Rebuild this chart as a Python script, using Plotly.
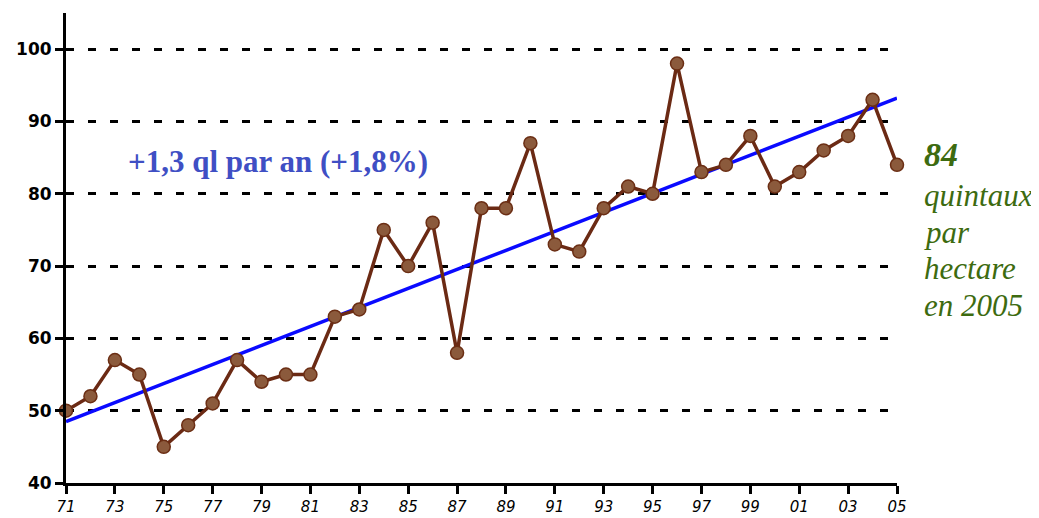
import numpy as np
import plotly.graph_objects as go

years = list(range(1971, 2006))
yields = [50, 52, 57, 55, 45, 48, 51, 57, 54, 55,
          55, 63, 64, 75, 70, 76, 58, 78, 78, 87,
          73, 72, 78, 81, 80, 98, 83, 84, 88, 81,
          83, 86, 88, 93, 84]
tick_years = list(range(1971, 2006, 2))
tick_labels = ["71", "73", "75", "77", "79", "81", "83", "85", "87", "89",
               "91", "93", "95", "97", "99", "01", "03", "05"]
y_ticks = [40, 50, 60, 70, 80, 90, 100]
note_lines = ["quintaux", "par", "hectare", "en 2005"]
note_levels = [79.8, 74.7, 69.7, 64.5]

coef = np.polyfit(years, yields, 1)
trend = np.polyval(coef, years)

fig = go.Figure()
fig.add_trace(go.Scatter(
    x=years, y=trend, mode="lines",
    line=dict(color="#0a0aff", width=3.5), cliponaxis=False, hoverinfo="skip"))
fig.add_trace(go.Scatter(
    x=years, y=yields, mode="lines+markers",
    line=dict(color="#6b2a14", width=3.5),
    marker=dict(size=13, color="#8b5a3c", line=dict(color="#6b2e14", width=1.5)),
    cliponaxis=False))

fig.add_annotation(x=0.255, xref="paper", xanchor="center", y=84.5, yref="y",
                   text="+1,3 ql par an (+1,8%)", showarrow=False,
                   font=dict(family="Liberation Serif", size=31, color="#3f4fc4", weight="bold"))
fig.add_annotation(x=1.03, xref="paper", y=85.4, yref="y", yanchor="middle", xanchor="left",
                   text="84", showarrow=False,
                   font=dict(family="Liberation Serif", size=34, color="#3d6b10", weight="bold", style="italic"))
for line_text, lvl in zip(note_lines, note_levels):
    fig.add_annotation(x=1.03, xref="paper", y=lvl, yref="y", yanchor="middle", xanchor="left",
                       text=line_text, showarrow=False, align="left",
                       font=dict(family="Liberation Serif", size=31, color="#3d6b10", style="italic"))

fig.update_layout(
    width=1031, height=510,
    margin=dict(l=58, r=142, t=5, b=35, autoexpand=False),
    paper_bgcolor="white", plot_bgcolor="white",
    showlegend=False,
    xaxis=dict(range=[1971, 2005], tickvals=tick_years, ticktext=tick_labels, automargin=False,
               showgrid=False, zeroline=False, showline=True, linecolor="black", linewidth=3,
               ticks="outside", ticklen=8, tickwidth=3, tickcolor="black",
               tickfont=dict(family="DejaVu Sans", size=15, color="black", style="italic")),
    yaxis=dict(range=[40, 105], tickvals=y_ticks, automargin=False,
               showgrid=True, gridcolor="black", gridwidth=3, griddash="8px,14px",
               zeroline=False, showline=True, linecolor="black", linewidth=3,
               ticks="outside", ticklen=8, tickwidth=3, tickcolor="black",
               tickfont=dict(family="DejaVu Sans", size=17, color="black", weight="bold")),
)

fig.write_html("out.html")
